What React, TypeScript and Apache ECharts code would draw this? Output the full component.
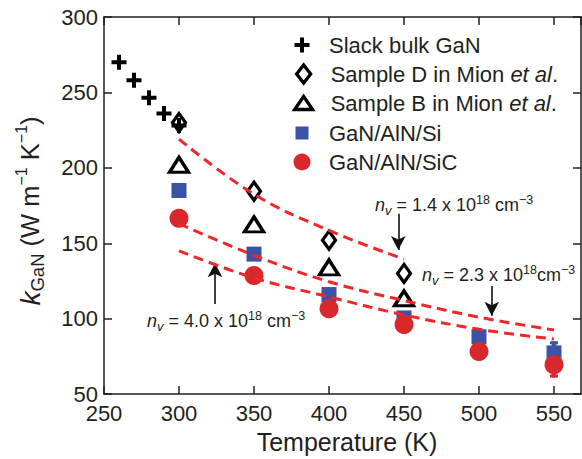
import React, { useEffect, useRef } from 'react';
import * as echarts from 'echarts';

// ---------- data ----------
const slackT = [260, 270, 280, 290, 300];
const slackK = [270, 258, 246.5, 236, 228];
const mionT = [300, 350, 400, 450];
const sampleDK = [230, 184.5, 152, 130];
const sampleBK = [202, 162.5, 134, 113.5];
const filmT = [300, 350, 400, 450, 500, 550];
const siK = [185, 142.8, 116, 100.5, 88, 77.3];
const sicK = [166.6, 128.6, 106.5, 96.1, 78.3, 69.5];
const errT = [550];
const siLow = [69.5];
const siHigh = [85];
const sicLow = [61];
const sicHigh = [78];
const model14T = [300, 350, 400, 450];
const model14K = [219, 182.5, 158.5, 139.5];
const modelT = [300, 350, 400, 450, 500, 550];
const model23K = [163, 142, 124.5, 112, 101, 92.5];
const model40K = [145, 127, 114.5, 102.5, 93, 86.5];
const arrowT = [446.2, 508.5, 324];
const arrowFromK = [169.5, 121.6, 109.7];
const arrowToK = [145.5, 102, 136.8];
const seriesNames = [
  'Slack bulk GaN',
  'Sample D in Mion et al.',
  'Sample B in Mion et al.',
  'GaN/AlN/Si',
  'GaN/AlN/SiC',
];
const nvValues = ['1.4', '2.3', '4.0'];
const xTitle = 'Temperature (K)';

// ---------- style ----------
const FONT = 'Liberation Sans, Arial, Helvetica, sans-serif';
const INK = '#231f20';
const BLUE = '#3a53a4';
const RED = '#d8282b';
const DASH = '#f0262b';
const PLUS = 'path://M0,5.5H15V9.5H0Z M5.5,0H9.5V15H5.5Z';

const pairs = (xs: number[], ys: number[]) => xs.map((x, i) => [x, ys[i]]);

function App() {
  const ref = useRef<HTMLDivElement>(null);
  useEffect(() => {
    if (!ref.current) return;
    const chart = echarts.init(ref.current, null, { renderer: 'svg' });

    const axisCommon = {
      type: 'value' as const,
      splitLine: { show: false },
      axisLine: { show: true, onZero: false, lineStyle: { color: INK, width: 1.5 } },
      axisTick: { show: true, inside: true, length: 8, lineStyle: { color: INK, width: 1.5 } },
    };

    const errRender = (color: string) => (params: any, api: any) => {
      const lo = api.coord([api.value(0), api.value(1)]);
      const hi = api.coord([api.value(0), api.value(2)]);
      return {
        type: 'group',
        children: [
          { type: 'line', shape: { x1: lo[0], y1: lo[1], x2: hi[0], y2: hi[1] }, style: { stroke: color, lineWidth: 4.5 } },
          { type: 'line', shape: { x1: hi[0] - 4, y1: hi[1] + 1.5, x2: hi[0] + 4, y2: hi[1] + 1.5 }, style: { stroke: color, lineWidth: 3 } },
          { type: 'line', shape: { x1: lo[0] - 4, y1: lo[1] - 1.5, x2: lo[0] + 4, y2: lo[1] - 1.5 }, style: { stroke: color, lineWidth: 3 } },
        ],
      };
    };

    // legend rows (one legend per row for exact icon sizes)
    const legendSpec = [
      { w: 15, h: 15, style: { color: '#000', opacity: 1 } },
      { w: 14, h: 18, style: { color: 'rgba(0,0,0,0)', borderColor: '#000', borderWidth: 3.3, opacity: 1 } },
      { w: 18, h: 13, style: { color: 'rgba(0,0,0,0)', borderColor: '#000', borderWidth: 3.3, opacity: 1 } },
      { w: 13, h: 13, style: { color: BLUE, opacity: 1 } },
      { w: 17, h: 17, style: { color: RED, opacity: 1 } },
    ];
    const rowY = [44, 73, 102, 132, 161];
    const iconCx = 302;
    const textX = 329;
    const legends = legendSpec.map((s, i) => ({
      show: true,
      data: [seriesNames[i]],
      selectedMode: false,
      orient: 'vertical',
      padding: 0,
      left: iconCx - s.w / 2,
      top: rowY[i] - 10,
      itemWidth: s.w,
      itemHeight: s.h,
      itemStyle: s.style,
      formatter: (name: string) => `{g|}${name.replace(' et al.', ' {i|et al}.')}`,
      textStyle: {
        fontFamily: FONT,
        fontSize: 22,
        color: INK,
        lineHeight: 20,
        rich: {
          g: { width: textX - (iconCx + s.w / 2 + 5), height: 10 },
          i: { fontFamily: FONT, fontSize: 22, fontStyle: 'italic', color: INK, lineHeight: 20 },
        },
      },
    }));

    const nvPos = [
      [375, 205],
      [422, 275],
      [147, 321],
    ];
    const nvText = (v: string, i: number) =>
      `{n|n}{v|v}{m| = ${v} x 10}{s|18}{m|${i === 1 ? '' : ' '}cm}{s|−3}`;
    const nvRich = {
      n: { fontFamily: FONT, fontSize: 18, fontStyle: 'italic', fill: INK, color: INK, lineHeight: 24 },
      v: { fontFamily: FONT, fontSize: 13, fontStyle: 'italic', fill: INK, color: INK, lineHeight: 10, verticalAlign: 'bottom' },
      m: { fontFamily: FONT, fontSize: 18, fill: INK, color: INK, lineHeight: 24 },
      s: { fontFamily: FONT, fontSize: 12.5, fill: INK, color: INK, lineHeight: 12, verticalAlign: 'top' },
    };

    const option: any = {
      animation: false,
      backgroundColor: '#fff',
      grid: { left: 104, right: 1, top: 17, bottom: 57 },
      legend: legends,
      xAxis: [
        {
          ...axisCommon,
          position: 'bottom',
          min: 250,
          max: 568,
          interval: 50,
          name: xTitle,
          nameLocation: 'middle',
          nameGap: 29,
          nameTextStyle: { fontFamily: FONT, fontSize: 25, color: INK, padding: [0, 0, 0, 9] },
          axisLabel: {
            fontFamily: FONT,
            fontSize: 22,
            color: INK,
            lineHeight: 16,
            margin: 11,
            showMaxLabel: false,
            formatter: (v: number) => (v % 50 === 0 ? String(v) : ''),
          },
        },
        {
          ...axisCommon,
          position: 'top',
          min: 250,
          max: 568,
          interval: 50,
          axisLabel: { show: false },
        },
      ],
      yAxis: [
        {
          ...axisCommon,
          position: 'left',
          min: 50,
          max: 300,
          interval: 50,
          axisLabel: { fontFamily: FONT, fontSize: 22, color: INK, margin: 6, lineHeight: 16 },
        },
        {
          ...axisCommon,
          position: 'right',
          min: 50,
          max: 300,
          interval: 50,
          axisLabel: { show: false },
        },
      ],
      graphic: [
        {
          type: 'text',
          x: 30,
          y: 211,
          rotation: Math.PI / 2,
          style: {
            text: '{k|k}{sub|GaN}{m| (W m}{sup|−1}{m| K}{sup|−1}{m|)}',
            align: 'center',
            verticalAlign: 'middle',
            rich: {
              k: { fontFamily: FONT, fontSize: 28, fontStyle: 'italic', fill: INK, lineHeight: 34 },
              sub: { fontFamily: FONT, fontSize: 18.5, fill: INK, lineHeight: 16, verticalAlign: 'bottom' },
              m: { fontFamily: FONT, fontSize: 25.5, fill: INK, lineHeight: 34 },
              sup: { fontFamily: FONT, fontSize: 16, fill: INK, lineHeight: 15, verticalAlign: 'top' },
            },
          },
        },
        ...nvValues.map((v, i) => ({
          type: 'text',
          x: nvPos[i][0],
          y: nvPos[i][1],
          style: {
            text: nvText(v, i),
            align: 'left',
            verticalAlign: 'middle',
            rich: nvRich,
          },
        })),
      ],
      series: [
        {
          name: 'err-si',
          type: 'custom',
          z: 2,
          renderItem: errRender(BLUE),
          data: errT.map((t, i) => [t, siLow[i], siHigh[i]]),
          encode: { x: 0, y: [1, 2] },
        },
        {
          name: 'err-sic',
          type: 'custom',
          z: 2,
          renderItem: errRender(RED),
          data: errT.map((t, i) => [t, sicLow[i], sicHigh[i]]),
          encode: { x: 0, y: [1, 2] },
        },
        {
          name: seriesNames[0],
          type: 'scatter',
          z: 3,
          symbol: PLUS,
          symbolSize: 15,
          itemStyle: { color: '#000', opacity: 1 },
          data: pairs(slackT, slackK),
        },
        {
          name: seriesNames[1],
          type: 'scatter',
          z: 4,
          symbol: 'diamond',
          symbolSize: [13, 18],
          itemStyle: { color: 'rgba(0,0,0,0)', borderColor: '#000', borderWidth: 3.3, opacity: 1 },
          data: pairs(mionT, sampleDK),
        },
        {
          name: seriesNames[2],
          type: 'scatter',
          z: 4,
          symbol: 'triangle',
          symbolSize: [19, 15],
          itemStyle: { color: 'rgba(0,0,0,0)', borderColor: '#000', borderWidth: 3.3, opacity: 1 },
          data: pairs(mionT, sampleBK),
        },
        {
          name: seriesNames[3],
          type: 'scatter',
          z: 4,
          symbol: 'rect',
          symbolSize: 15,
          itemStyle: { color: BLUE, opacity: 1 },
          data: pairs(filmT, siK),
        },
        {
          name: seriesNames[4],
          type: 'scatter',
          z: 5,
          symbol: 'circle',
          symbolSize: 19,
          itemStyle: { color: RED, opacity: 1 },
          data: pairs(filmT, sicK),
        },
        ...[
          pairs(model14T, model14K),
          pairs(modelT, model23K),
          pairs(modelT, model40K),
        ].map((d, i) => ({
          name: `model-${nvValues[i]}`,
          type: 'line',
          z: 6,
          smooth: 0.4,
          showSymbol: false,
          symbol: 'none',
          silent: true,
          lineStyle: { color: DASH, width: 3, type: [10, 6], cap: 'butt' },
          data: d,
        })),
        {
          name: 'arrows',
          type: 'line',
          z: 7,
          data: [],
          markLine: {
            silent: true,
            symbol: ['none', 'arrow'],
            symbolSize: [11, 14],
            label: { show: false },
            lineStyle: { color: '#111', width: 1.6, type: 'solid' },
            data: arrowT.map((t, i) => [
              { coord: [t, arrowFromK[i]] },
              { coord: [t, arrowToK[i]] },
            ]),
          },
        },
      ],
    };
    chart.setOption(option);
    return () => chart.dispose();
  }, []);
  return <div ref={ref} style={{ width: 582, height: 459, position: 'absolute', left: 0, top: 0 }} />;
}

export default App;
